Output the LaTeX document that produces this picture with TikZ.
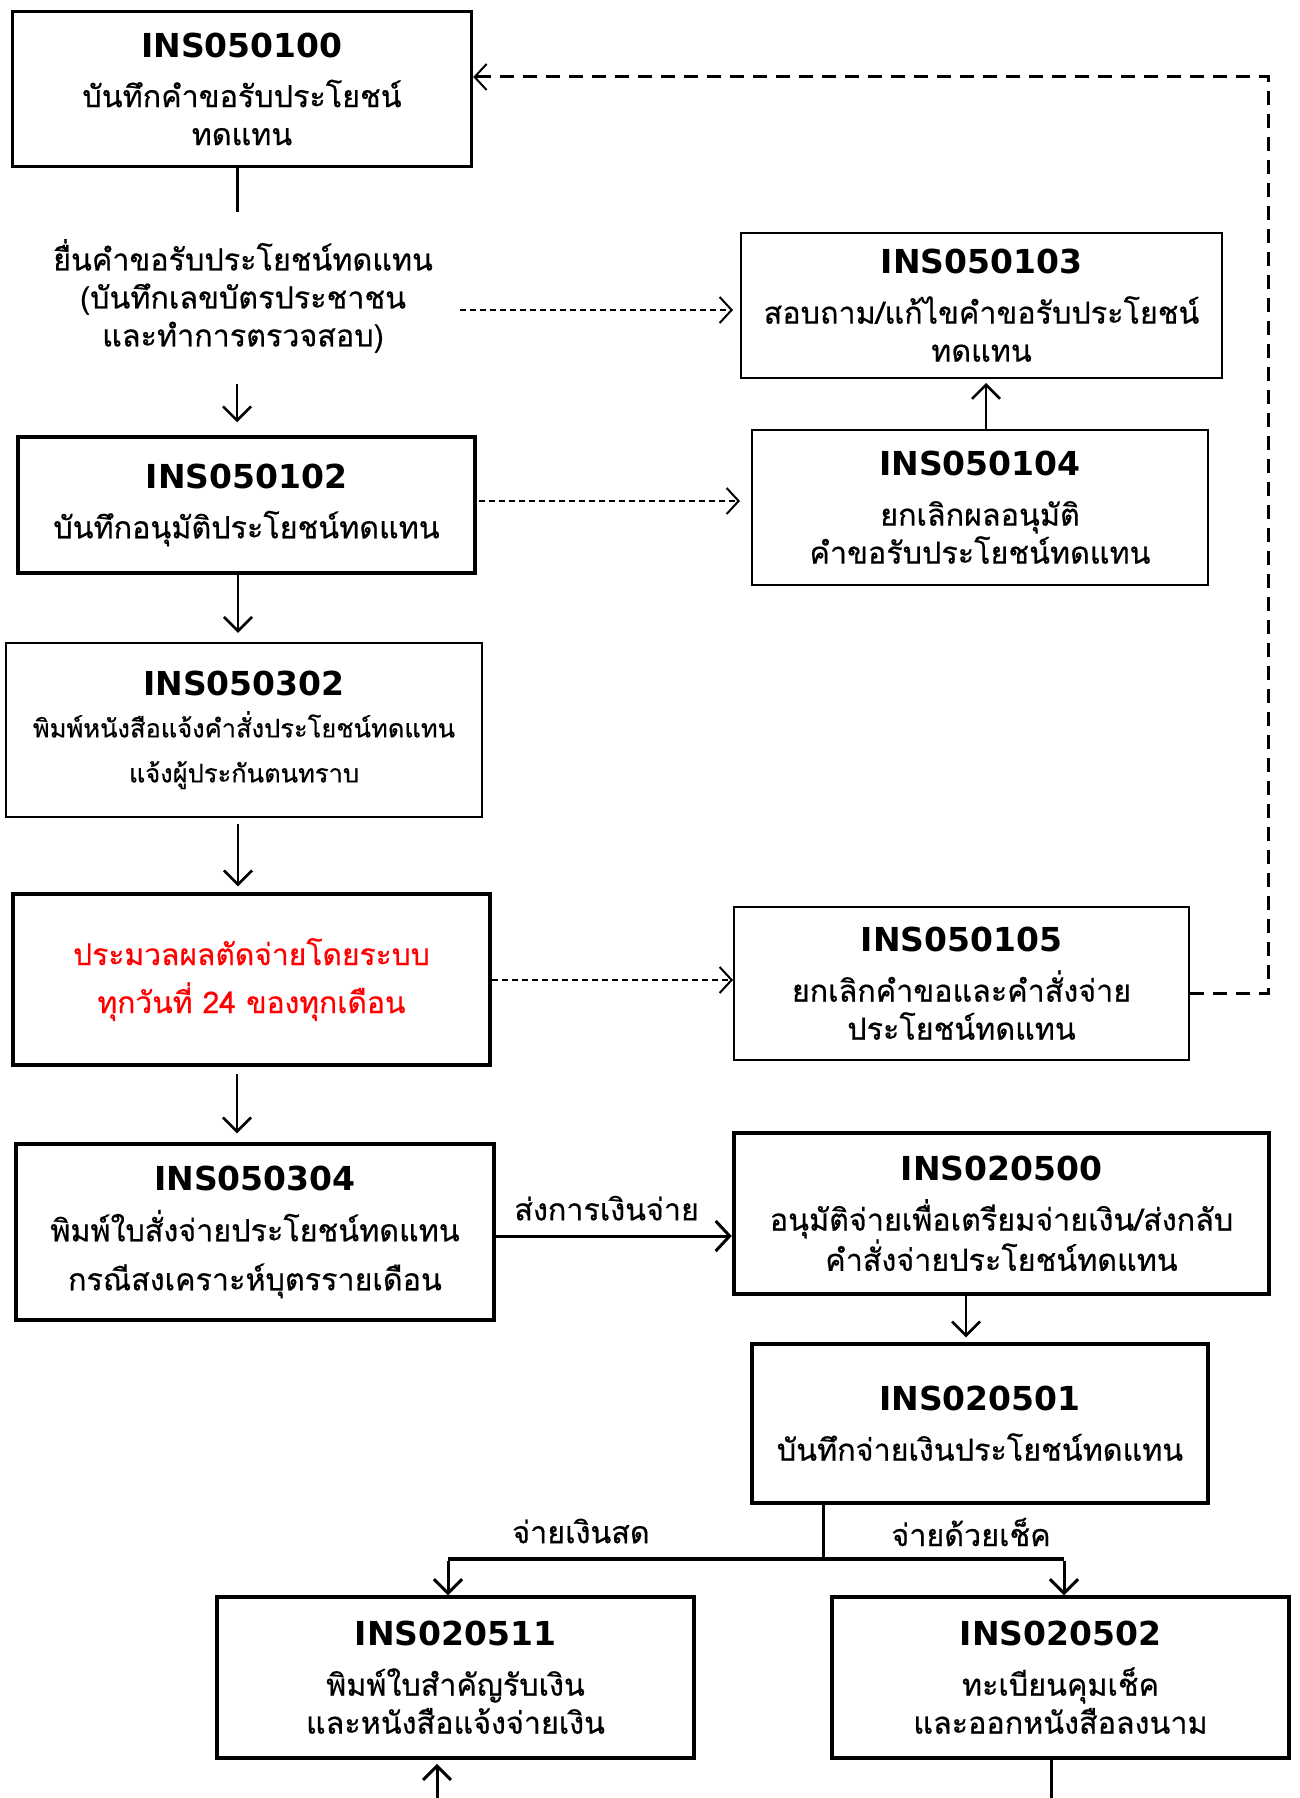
\documentclass[tikz,border=0pt]{standalone}
\usepackage{fontspec}
\setmainfont{DejaVu Sans}
\newfontfamily\thai[Script=Thai,FakeBold=0.5]{Loma}
\newfontfamily\idfont{DejaVu Sans Bold}
\usetikzlibrary{arrows.meta,calc}
\newcommand\idt[1]{{\idfont\fontsize{33}{38}\selectfont #1}}
\begin{document}
\begin{tikzpicture}[x=1pt,y=-1pt,
  txt/.style={align=center,inner sep=0pt,font=\thai\fontsize{30.5}{38}\selectfont},
  boxthick/.style={txt,draw,line width=3.5pt},
  boxthin/.style={txt,draw,line width=2pt},
  arr/.style={line width=2.5pt,-{Straight Barb[length=14pt,width=28pt,line width=2.5pt]}},
  darr/.style={line width=2pt,dash pattern=on 6pt off 4pt,-{Straight Barb[length=12pt,width=26pt,line width=2pt]}},
  dline/.style={line width=3pt,dash pattern=on 14pt off 9pt}]
\useasboundingbox (0,0) rectangle (1299,1798);
\fill[white] (0,0) rectangle (1299,1798);

\node[boxthick,minimum width=459pt,minimum height=155pt] (n100) at (242,89)
  {\idt{INS050100}\\[12pt]บันทึกคำขอรับประโยชน์\\ทดแทน};
\node[txt] (req) at (243,296)
  {ยื่นคำขอรับประโยชน์ทดแทน\\(บันทึกเลขบัตรประชาชน\\และทำการตรวจสอบ)};
\node[boxthin,minimum width=481pt,minimum height=145pt] (n103) at (981.5,305.5)
  {\idt{INS050103}\\[12pt]สอบถาม/แก้ไขคำขอรับประโยชน์\\ทดแทน};
\node[boxthin,minimum width=456pt,minimum height=155pt] (n104) at (980,507.5)
  {\idt{INS050104}\\[12pt]ยกเลิกผลอนุมัติ\\คำขอรับประโยชน์ทดแทน};
\node[boxthick,minimum width=457pt,minimum height=136pt] (n102) at (246.5,505)
  {\idt{INS050102}\\[12pt]บันทึกอนุมัติประโยชน์ทดแทน};
\node[boxthin,line width=2.5pt,minimum width=476pt,minimum height=174pt,font=\thai\fontsize{25.5}{45}\selectfont] (n302) at (244,730)
  {\idt{INS050302}\\[-3pt]พิมพ์หนังสือแจ้งคำสั่งประโยชน์ทดแทน\\แจ้งผู้ประกันตนทราบ};
\node[boxthick,minimum width=477pt,minimum height=171pt,text=red,font=\thai\fontsize{30}{48}\selectfont] (nred) at (251.5,979.5)
  {ประมวลผลตัดจ่ายโดยระบบ\\ทุกวันที่ 24 ของทุกเดือน};
\node[boxthin,minimum width=455pt,minimum height=153pt] (n105) at (961.5,983.5)
  {\idt{INS050105}\\[12pt]ยกเลิกคำขอและคำสั่งจ่าย\\ประโยชน์ทดแทน};
\node[boxthick,minimum width=478pt,minimum height=176pt,font=\thai\fontsize{30.5}{49}\selectfont] (n304) at (255,1232)
  {\idt{INS050304}\\[2pt]พิมพ์ใบสั่งจ่ายประโยชน์ทดแทน\\กรณีสงเคราะห์บุตรรายเดือน};
\node[boxthick,line width=4.5pt,minimum width=535pt,minimum height=161pt] (n500) at (1001.5,1213.5)
  {\idt{INS020500}\\[12pt]อนุมัติจ่ายเพื่อเตรียมจ่ายเงิน/ส่งกลับ\\คำสั่งจ่ายประโยชน์ทดแทน};
\node[boxthick,minimum width=456pt,minimum height=159pt] (n501) at (980,1423.5)
  {\idt{INS020501}\\[12pt]บันทึกจ่ายเงินประโยชน์ทดแทน};
\node[boxthick,minimum width=477pt,minimum height=161pt] (n511) at (455.5,1677.5)
  {\idt{INS020511}\\[12pt]พิมพ์ใบสำคัญรับเงิน\\และหนังสือแจ้งจ่ายเงิน};
\node[boxthick,minimum width=457pt,minimum height=161pt] (n502) at (1060.5,1677.5)
  {\idt{INS020502}\\[12pt]ทะเบียนคุมเช็ค\\และออกหนังสือลงนาม};

% coordinates
\coordinate (cA) at (237,0);
\coordinate (cB) at (238,0);
\coordinate (cC) at (986,0);
\coordinate (cD) at (966,0);
\coordinate (fbA) at (1268,993);
\coordinate (fbB) at (1268,77);
\coordinate (sp) at (823,1559);
\coordinate (spL) at (448,1559);
\coordinate (spR) at (1064,1559);
\coordinate (botL) at (437,1798);
\coordinate (botR) at (1051,1798);

% connectors
\draw[line width=3pt] (n100.south -| cA) -- (237,212);
\draw[arr,shorten >=13pt] (237,384) -- (n102.north -| cA);
\draw[darr] (460,310) -- ([xshift=-7pt]n103.west |- 0,310);
\draw[darr] (479,501) -- ([xshift=-11pt]n104.west |- 0,501);
\draw[arr,shorten >=4pt] (n104.north -| cC) -- (n103.south -| cC);
\draw[arr,shorten >=9pt] (n102.south -| cB) -- (n302.north -| cB);
\draw[arr,shorten <=6pt,shorten >=6pt] (n302.south -| cB) -- (nred.north -| cB);
\draw[darr] (nred.east |- 0,980) -- (n105.west |- 0,980);
\draw[dline] (n105.east |- fbA) -- (fbA) -- (fbB) -- (n100.east |- fbB);
\draw[line width=2pt,-{Straight Barb[length=12pt,width=26pt,line width=2pt]}] ([xshift=12pt]n100.east |- fbB) -- (n100.east |- fbB);
\draw[arr,shorten <=7pt,shorten >=9pt] (nred.south -| cA) -- (n304.north -| cA);
\draw[line width=3pt,-{Straight Barb[length=14pt,width=30pt,line width=3pt]}] (n304.east |- 0,1236) -- node[txt,above=14pt,pos=0.47] (lbl1) {ส่งการเงินจ่าย} (n500.west |- 0,1236);
\draw[arr,shorten >=5pt] (n500.south -| cD) -- (n501.north -| cD);
\draw[line width=3pt] (n501.south -| sp) -- (sp);
\draw[line width=4pt] (spL) -- (spR);
\draw[line width=3pt,-{Straight Barb[length=14pt,width=28pt,line width=3pt]}] ([yshift=-2pt]spL) -- (n511.north -| spL);
\draw[line width=3pt,-{Straight Barb[length=14pt,width=28pt,line width=3pt]}] ([yshift=-2pt]spR) -- (n502.north -| spR);
\node[txt] (lbl2) at (581,1531) {จ่ายเงินสด};
\node[txt] (lbl3) at (971,1532) {จ่ายด้วยเช็ค};
\draw[line width=3pt,shorten >=4pt,-{Straight Barb[length=14pt,width=28pt,line width=3pt]}] (botL) -- (n511.south -| botL);
\draw[line width=3pt] (n502.south -| botR) -- (botR);
\end{tikzpicture}
\end{document}
